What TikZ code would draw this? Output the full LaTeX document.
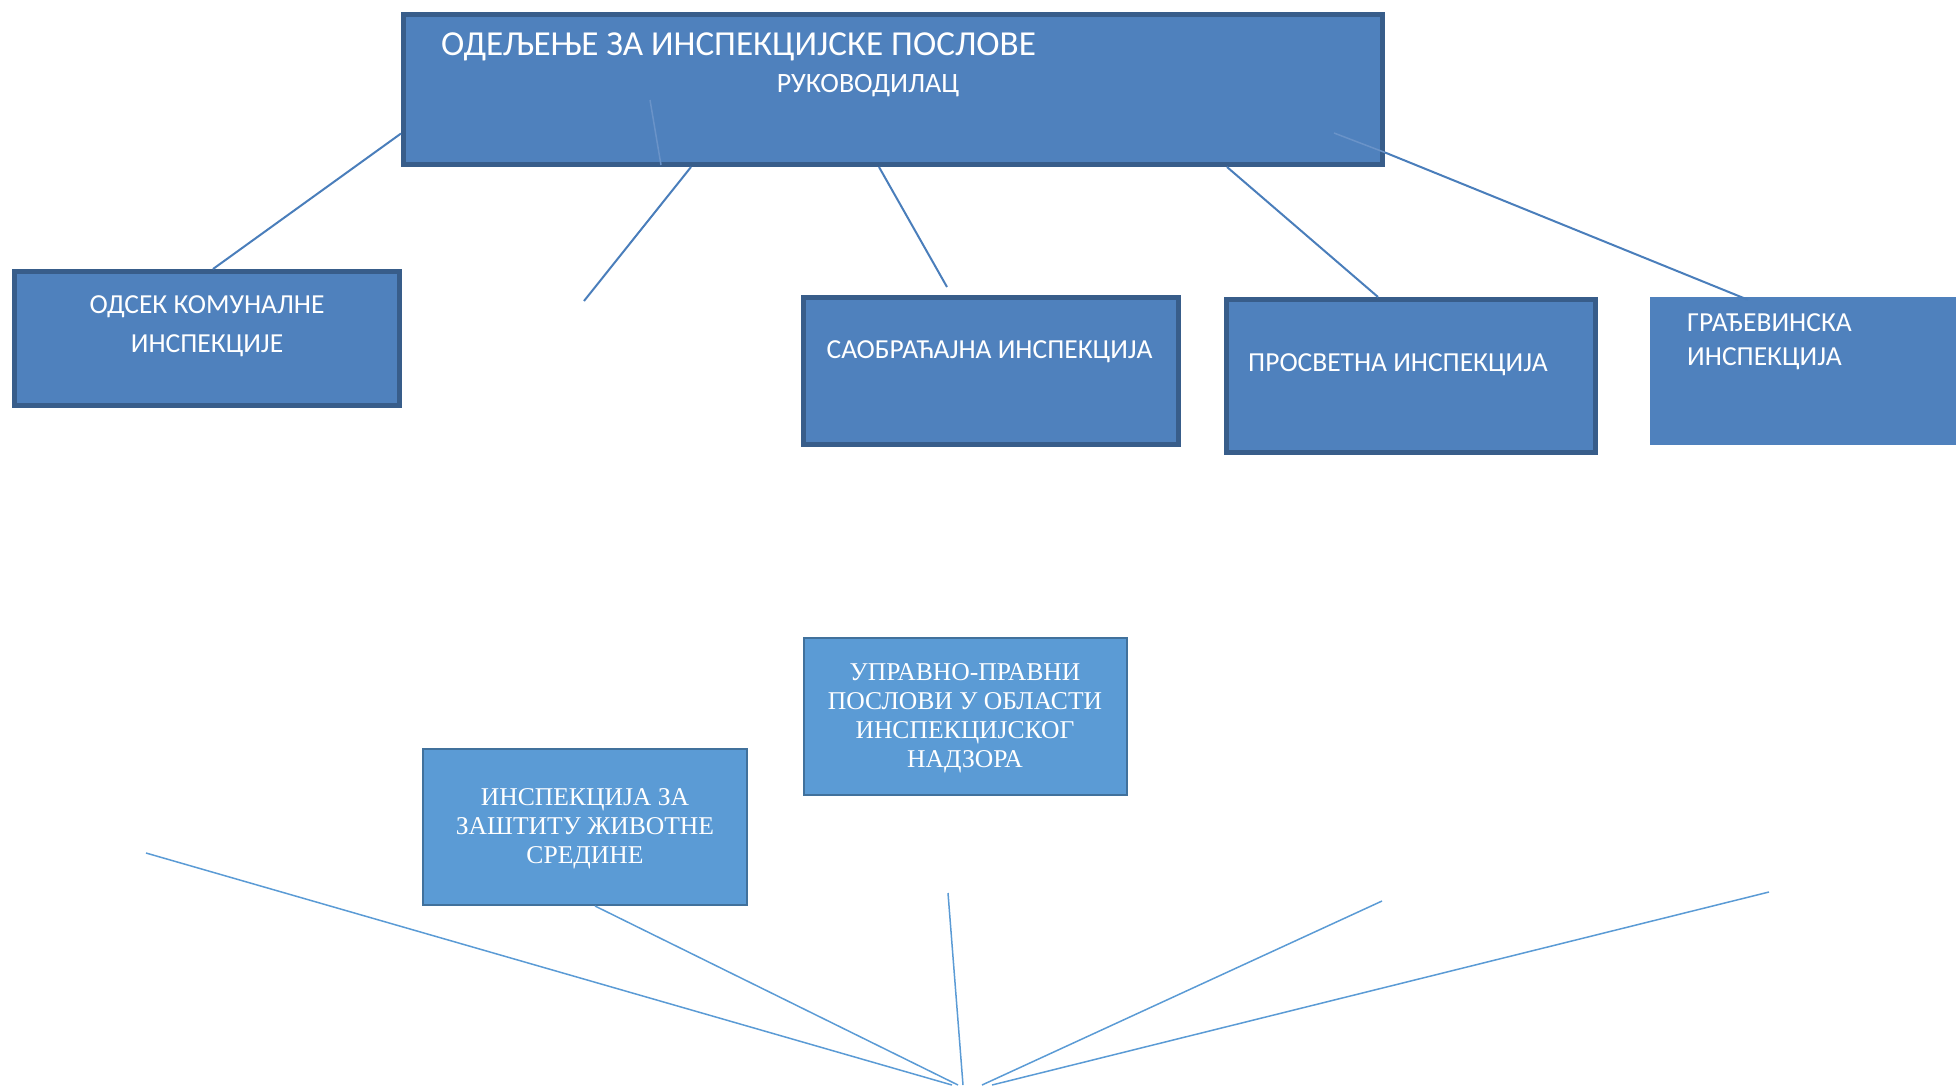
\documentclass[tikz,border=0pt]{standalone}
\usepackage{fontspec}
\setmainfont{Carlito}
\newfontfamily\timesfont{Liberation Serif}
\usetikzlibrary{calc}
\definecolor{boxfill}{HTML}{4F81BD}
\definecolor{boxline}{HTML}{385D8A}
\definecolor{litefill}{HTML}{5B9BD5}
\definecolor{liteline}{HTML}{41719C}
\definecolor{linkblue}{HTML}{4A7EBB}
\definecolor{faintblue}{HTML}{6A93C8}

\begin{document}
\begin{tikzpicture}[x=1pt,y=-1pt,
    darkbox/.style={draw=boxline,line width=5pt,fill=boxfill,inner sep=0pt},
    flatbox/.style={fill=boxfill,inner sep=0pt},
    litebox/.style={draw=liteline,line width=2pt,fill=litefill,inner sep=0pt},
    boxtext/.style={text=white,inner sep=0pt,font=\fontsize{27.5}{39}\selectfont},
    seriftext/.style={text=white,inner sep=0pt,align=center,font=\timesfont\fontsize{25.6}{29}\selectfont},
    uplink/.style={linkblue,line width=2pt},
    faintlink/.style={faintblue,line width=1.5pt},
    downlink/.style={litefill,line width=1.5pt}]
    \useasboundingbox (0,0) rectangle (1956,1085);
    % upper row
    \node[darkbox,minimum width=979pt,minimum height=150pt] (head) at (893,89.5) {};
    \node[boxtext,anchor=base west,font=\fontsize{35.1}{40}\selectfont] (headtitle) at (441,55) {ОДЕЉЕЊЕ ЗА ИНСПЕКЦИЈСКЕ ПОСЛОВЕ};
    \node[boxtext,anchor=base,font=\fontsize{28}{34}\selectfont] (headsub) at (868,92) {РУКОВОДИЛАЦ};
    \node[darkbox,minimum width=385pt,minimum height=134pt] (kom) at (207,338.5) {};
    \node[boxtext,align=center] (komtext) at (207,326) {ОДСЕК КОМУНАЛНЕ\\ИНСПЕКЦИЈЕ};
    \node[darkbox,minimum width=374.5pt,minimum height=147pt] (saob) at (991,371) {};
    \node[boxtext,anchor=base] (saobtext) at (989.5,358) {САОБРАЋАЈНА ИНСПЕКЦИЈА};
    \node[darkbox,minimum width=369pt,minimum height=153pt] (prosv) at (1411,376) {};
    \node[boxtext,anchor=base] (prosvtext) at (1398,371) {ПРОСВЕТНА ИНСПЕКЦИЈА};
    \node[flatbox,minimum width=306pt,minimum height=148pt] (grad) at (1803,371) {};
    \node[boxtext,align=left,anchor=west,font=\fontsize{27.5}{34}\selectfont] (gradtext) at (1687,341.5) {ГРАЂЕВИНСКА\\ИНСПЕКЦИЈА};
    %
    \coordinate (free2) at (584,301);
    \coordinate (free3) at (650,100);
    \coordinate (free4) at (947,287);
    \coordinate (free6) at (1334,133);
    \draw[uplink] ([yshift=-44pt]head.west) -- ([xshift=6pt]kom.north);
    \draw[uplink] ([xshift=-202pt]head.south) -- (free2);
    \draw[faintlink] (free3) -- ([xshift=-232pt,yshift=2pt]head.south);
    \draw[uplink] ([xshift=-14pt]head.south) -- (free4);
    \draw[uplink] ([xshift=334pt]head.south) -- ([xshift=-33pt]prosv.north);
    \draw[faintlink] (free6) -- ([yshift=-63pt]head.east);
    \draw[uplink] ([yshift=-63pt]head.east) -- ([xshift=-55pt,yshift=-3pt]grad.north);
    % lower part
    \node[litebox,minimum width=323pt,minimum height=157pt] (upr) at (965.5,716.5) {};
    \node[seriftext] (uprtext) at (965,718.5) {УПРАВНО-ПРАВНИ\\ПОСЛОВИ У ОБЛАСТИ\\ИНСПЕКЦИЈСКОГ\\НАДЗОРА};
    \node[litebox,minimum width=323.5pt,minimum height=156pt] (zast) at (585,827) {};
    \node[seriftext] (zasttext) at (585,828.5) {ИНСПЕКЦИЈА ЗА\\ЗАШТИТУ ЖИВОТНЕ\\СРЕДИНЕ};
    %
    \coordinate (low1) at (146,853);
    \coordinate (low3) at (948,893);
    \coordinate (low4) at (1382,901);
    \coordinate (low5) at (1769,892);
    \coordinate (end1) at (952,1085);
    \coordinate (end2) at (958,1085);
    \coordinate (end3) at (963,1085);
    \coordinate (end4) at (982,1085);
    \coordinate (end5) at (992,1085);
    \draw[downlink] (low1) -- (end1);
    \draw[downlink] ([xshift=10pt]zast.south) -- (end2);
    \draw[downlink] (low3) -- (end3);
    \draw[downlink] (low4) -- (end4);
    \draw[downlink] (low5) -- (end5);
\end{tikzpicture}
\end{document}
